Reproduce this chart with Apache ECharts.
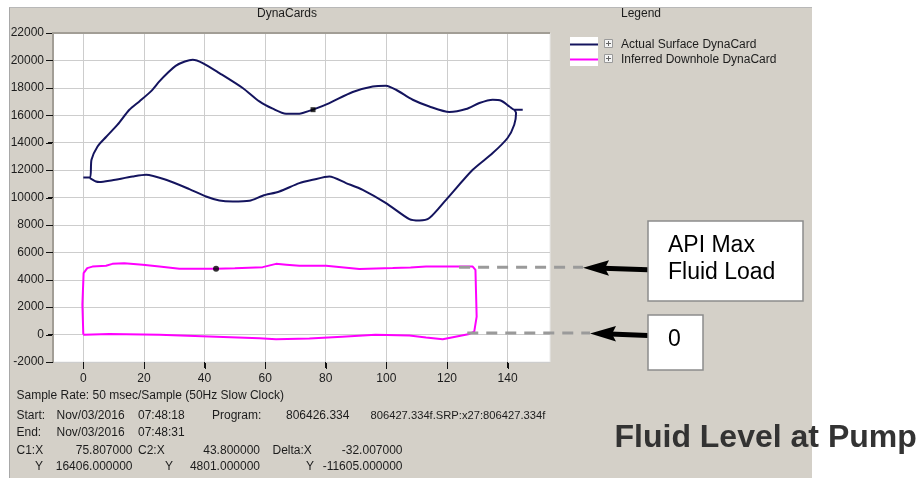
<!DOCTYPE html>
<html><head><meta charset="utf-8">
<script src="https://cdn.jsdelivr.net/npm/echarts@6/dist/echarts.min.js"></script>
<style>
html,body{margin:0;padding:0;background:#fff;}
#panel{position:absolute;left:9px;top:7px;width:802px;height:471px;background:#d4d0c8;border-left:1px solid #a8a8a8;border-top:1px solid #b8b8b8;}
#c{position:absolute;left:0;top:0;width:918px;height:478px;}
</style>
</head><body>
<div id="panel"></div>
<div id="c"></div>
<script>
// ---- data ----
const xTicks = [0, 20, 40, 60, 80, 100, 120, 140];
const yTicks = [-2000, 0, 2000, 4000, 6000, 8000, 10000, 12000, 14000, 16000, 18000, 20000, 22000];
const yMin = -2000, yMax = 22000, yStep = 2000;
const xMin = -10, xMax = 154;
const seriesNames = ['Actual Surface DynaCard', 'Inferred Downhole DynaCard'];
const surfaceCard = [
  [0,11450],[2.2,11450],[2.7,12750],[4.7,13720],[7.5,14410],[11.3,15310],[15.2,16400],[18.5,17010],
  [22.3,17740],[25.1,18470],[27.8,19080],[30.6,19620],[33.5,19920],[36.1,20050],[39.4,19810],
  [44.9,19080],[52.6,17990],[58.1,17010],[62.5,16480],[66.9,16110],[71.3,16110],[72.4,16160],
  [75.8,16406],[81.2,16890],[88.9,17700],[95.5,18100],[99.9,18160],[103.2,17860],[108.7,17130],
  [114.2,16640],[120.8,16240],[126.3,16450],[130.7,16890],[135.1,17130],[137.9,17060],[140.6,16640],
  [142.2,16400],[145,16400],[142.2,16400],[142.8,16160],[142.2,15310],[140,14340],[135.1,13240],
  [128.5,12020],[119.7,9830],[114.2,8500],[110.9,8320],[107.6,8420],[99.9,9590],[92.2,10560],
  [86.7,11050],[81.2,11530],[75.7,11290],[71.3,11050],[64.7,10440],[59.2,10130],[54.8,9760],
  [49.3,9710],[44.9,9780],[40.5,10070],[35,10610],[27.3,11290],[20.7,11660],[16.3,11530],
  [8.6,11220],[5.3,11130],[4.2,11170],[2.2,11420]
];
const downholeCard = [
  [0,0],[-0.3,2200],[0.1,4480],[1.3,4850],[3,4960],[7.5,5020],[9.6,5160],[13.5,5210],[19.6,5090],
  [25.1,4960],[31.7,4800],[43.8,4801],[50,4840],[59.2,4920],[63.6,5160],[67,5100],[71.3,5020],
  [80.1,5020],[86,4900],[91.1,4780],[102.1,4850],[108,4900],[113.1,4960],[128.5,4960],[129.4,4720],
  [129.6,3000],[129.8,1310],[129,220],[127.4,50],[118.6,-340],[113.1,-220],[107.6,-70],[96.4,-20],
  [85.4,-150],[74.6,-290],[63.6,-340],[58.1,-260],[43.8,-150],[25.1,-20],[8.6,50],[0.3,-20],[0,0]
];
const cursor1 = [[75.807, 16406]];
const cursor2 = [[43.8, 4801]];
const annotationLevels = [4950, 0];      // API max fluid load, zero load
const annotationStartX = [124, 126.7];
const infoLines = {
  rate: 'Sample Rate: 50 msec/Sample (50Hz Slow Clock)',
  start: ['Start:', 'Nov/03/2016', '07:48:18', 'Program:', '806426.334', '806427.334f.SRP:x27:806427.334f'],
  end: ['End:', 'Nov/03/2016', '07:48:31'],
  c1: ['C1:X', '75.807000', 'C2:X', '43.800000', 'Delta:X', '-32.007000'],
  cy: ['Y', '16406.000000', 'Y', '4801.000000', 'Y', '-11605.000000']
};

const FF = '"Liberation Sans", Arial, sans-serif';
const TXT = '#1c1c1c';
const chart = echarts.init(document.getElementById('c'), null, {renderer: 'canvas'});

const option = {
  animation: false,
  backgroundColor: 'transparent',
  textStyle: {fontFamily: FF},
  title: [
    {text: 'DynaCards', left: 257, top: 8, padding: 0, textStyle: {fontSize: 12, fontWeight: 'normal', color: TXT, fontFamily: FF}},
    {text: 'Legend', left: 621, top: 8, padding: 0, textStyle: {fontSize: 12, fontWeight: 'normal', color: TXT, fontFamily: FF}}
  ],
  legend: {
    orient: 'vertical', left: 570, top: 38.5, padding: 0, itemGap: 3,
    itemWidth: 28, itemHeight: 15,
    icon: 'path://M0,0h28v2h-28z',
    data: seriesNames,
    selectedMode: false,
    textStyle: {fontSize: 12, color: TXT, fontFamily: FF, padding: [0, 0, 0, 18]}
  },
  grid: {left: 53, top: 33, width: 497, height: 329, show: true, backgroundColor: '#ffffff', borderColor: '#e9e9e9', borderWidth: 1},
  xAxis: {
    type: 'value', min: xMin, max: xMax,
    axisLine: {show: false, onZero: false},
    axisTick: {show: true, customValues: xTicks, length: 6, lineStyle: {color: '#111', width: 1}},
    axisLabel: {customValues: xTicks, margin: 11, fontSize: 12, color: TXT, fontFamily: FF},
    splitLine: {show: false}
  },
  yAxis: {
    type: 'value', min: yMin, max: yMax, interval: yStep,
    axisLine: {show: true, onZero: false, lineStyle: {color: '#a29e96', width: 2}},
    axisTick: {show: true, length: 5, lineStyle: {color: '#111', width: 1}},
    axisLabel: {margin: 9, fontSize: 12, color: TXT, fontFamily: FF, formatter: v => String(v)},
    splitLine: {show: true, lineStyle: {color: '#cdcdcd', width: 1}}
  },
  series: [
    {
      name: seriesNames[0], type: 'line', data: surfaceCard, showSymbol: false, smooth: 0.25,
      lineStyle: {color: '#14145e', width: 2}, itemStyle: {color: '#14145e'}, z: 3,
      markLine: {
        silent: true, symbol: 'none', z: 1, animation: false,
        label: {show: false},
        lineStyle: {color: '#cdcdcd', width: 1, type: 'solid'},
        data: xTicks.map(v => ({xAxis: v}))
      }
    },
    {
      name: seriesNames[1], type: 'line', data: downholeCard, showSymbol: false, smooth: false,
      lineStyle: {color: '#ff00ff', width: 2}, itemStyle: {color: '#ff00ff'}, z: 3
    },
    {name: 'C1', type: 'scatter', data: cursor1, symbol: 'rect', symbolSize: 5, itemStyle: {color: '#000'}, z: 4, silent: true},
    {name: 'C2', type: 'scatter', data: cursor2, symbol: 'circle', symbolSize: 6, itemStyle: {color: '#000'}, z: 4, silent: true}
  ]
};
chart.setOption(option);

// ---- annotations / frame (computed from the axes) ----
const tl = chart.convertToPixel({gridIndex: 0}, [xMin, yMax]);
const br = chart.convertToPixel({gridIndex: 0}, [xMax, yMin]);
const g = [];
g.push({type: 'line', shape: {x1: tl[0] - 1, y1: tl[1], x2: br[0], y2: tl[1]}, style: {stroke: '#a29e96', lineWidth: 2}, z: 10});
// axis ticks (outside the plot), positioned through the axes' scales
xTicks.forEach(v => {
  const px = Math.round(chart.convertToPixel({xAxisIndex: 0}, v)) + 0.5;
  g.push({type: 'line', shape: {x1: px, y1: br[1] + 1, x2: px, y2: br[1] + 7}, style: {stroke: '#111', lineWidth: 1}, z: 10});
});
yTicks.forEach(v => {
  const py = Math.round(chart.convertToPixel({yAxisIndex: 0}, v)) + 0.5;
  g.push({type: 'line', shape: {x1: tl[0] - 7, y1: py, x2: tl[0] - 1, y2: py}, style: {stroke: '#111', lineWidth: 1}, z: 10});
});
g.push({type: 'rect', shape: {x: 570, y: 37, width: 28, height: 29}, style: {fill: '#fff'}, z: 0});
[44, 59].forEach(cy => {
  g.push({type: 'rect', shape: {x: 604.5, y: cy - 4.5, width: 8, height: 8}, style: {fill: '#f4f4f4', stroke: '#9a9a9a', lineWidth: 1}, z: 10});
  g.push({type: 'line', shape: {x1: 606, y1: cy - 0.5, x2: 611, y2: cy - 0.5}, style: {stroke: '#666', lineWidth: 1}, z: 11});
  g.push({type: 'line', shape: {x1: 608.5, y1: cy - 3, x2: 608.5, y2: cy + 2}, style: {stroke: '#666', lineWidth: 1}, z: 11});
});
const tips = [583, 590];
annotationLevels.forEach((lv, i) => {
  const p = chart.convertToPixel({gridIndex: 0}, [annotationStartX[i], lv]);
  const ly = i === 0 ? p[1] + 0.5 : p[1] - 1.5;
  g.push({type: 'line', shape: {x1: p[0], y1: ly, x2: tips[i], y2: ly}, style: {stroke: '#9a9a9a', lineWidth: 3, lineDash: [11, 8]}, z: 10});
  const ty = ly + 0.5;
  const t = tips[i];
  g.push({type: 'polygon', shape: {points: [[t, ty], [t + 26, ty - 7.5], [t + 22, ty + 0.5], [t + 26, ty + 8]]}, style: {fill: '#000'}, z: 12});
  g.push({type: 'line', shape: {x1: t + 20, y1: ty + 0.5, x2: 648, y2: ty + 2}, style: {stroke: '#000', lineWidth: 5}, z: 12});
});
g.push({type: 'rect', shape: {x: 648, y: 221, width: 155, height: 80}, style: {fill: '#fff', stroke: '#8c8c8c', lineWidth: 1.5}, z: 13});
g.push({type: 'rect', shape: {x: 648, y: 315, width: 55, height: 55}, style: {fill: '#fff', stroke: '#8c8c8c', lineWidth: 1.5}, z: 13});
const big = {fontFamily: FF, fontSize: 23, fill: '#000', textVerticalAlign: 'middle', verticalAlign: 'middle'};
g.push({type: 'text', x: 668, y: 246, style: Object.assign({text: 'API Max'}, big), z: 14});
g.push({type: 'text', x: 668, y: 273, style: Object.assign({text: 'Fluid Load'}, big), z: 14});
g.push({type: 'text', x: 668, y: 339.5, style: Object.assign({text: '0'}, big), z: 14});
g.push({type: 'text', x: 614.5, y: 438, style: {text: 'Fluid Level at Pump', fontFamily: FF, fontSize: 32, fontWeight: 'bold', fill: '#333', verticalAlign: 'middle', textVerticalAlign: 'middle'}, z: 14});
function info(txt, x, y, align, size) {
  g.push({type: 'text', x: x, y: y, style: {text: txt, fontFamily: FF, fontSize: size || 12, fill: TXT, align: align || 'left', textAlign: align || 'left', verticalAlign: 'middle', textVerticalAlign: 'middle'}, z: 14});
}
info(infoLines.rate, 16.5, 396);
const sx = [16.5, 56.5, 138, 212, 286, 370.5];
infoLines.start.forEach((s, i) => info(s, sx[i], 415.5, 'left', i === 5 ? 11.2 : 12));
infoLines.end.forEach((s, i) => info(s, sx[i], 433));
const c1x = [[16.5, 'left'], [132.5, 'right'], [138, 'left'], [260, 'right'], [272.5, 'left'], [402.5, 'right']];
infoLines.c1.forEach((s, i) => info(s, c1x[i][0], 450.5, c1x[i][1]));
const cyx = [[35, 'left'], [132.5, 'right'], [165, 'left'], [260, 'right'], [306, 'left'], [402.5, 'right']];
infoLines.cy.forEach((s, i) => info(s, cyx[i][0], 466.5, cyx[i][1]));
chart.setOption({graphic: g});
</script>
</body></html>
